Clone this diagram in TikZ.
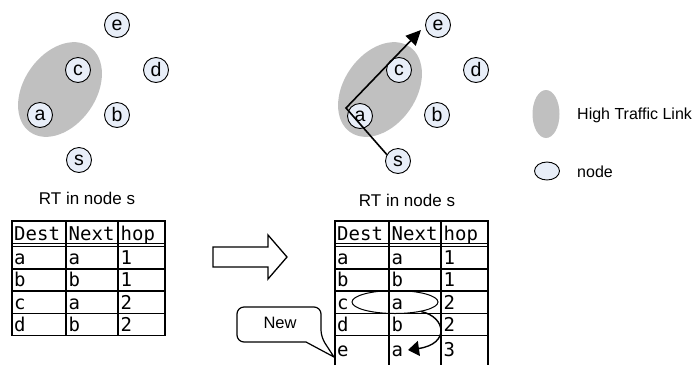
\documentclass[tikz,border=0pt]{standalone}
\usepackage{fontspec}
\setmainfont{Liberation Sans}
\newfontfamily\tabfont{DejaVu Sans Mono}
\usetikzlibrary{shapes.geometric,arrows.meta}
\definecolor{nodefill}{RGB}{232,238,248}
\definecolor{hot}{RGB}{192,192,192}
\begin{document}
\begin{tikzpicture}[x=1pt,y=-1pt,
  nd/.style={circle,draw,fill=nodefill,line width=0.9pt,minimum size=25pt,inner sep=0pt,font=\fontsize{19.5}{19.5}\selectfont},
  hotlink/.style={ellipse,fill=hot,inner sep=0pt},
  lbl/.style={font=\fontsize{17}{17}\selectfont,inner sep=0pt},
  cell/.style={anchor=base west,inner sep=0pt,font=\tabfont\fontsize{19}{19}\selectfont},
  grid/.style={line width=1.5pt},
  hdr/.style={line width=1pt}]
\useasboundingbox (0,0) rectangle (695,365);

% ---------- left graph ----------
\node[hotlink,minimum width=104pt,minimum height=72pt,rotate=55] (hl1) at (60,89.5) {};
\node[nd] (e1) at (117,25) {e};
\node[nd] (c1) at (78,70) {c};
\node[nd] (d1) at (156,70) {d};
\node[nd] (a1) at (40,115) {a};
\node[nd] (b1) at (117,115) {b};
\node[nd] (s1) at (79,160) {s};

% ---------- right graph ----------
\node[hotlink,minimum width=104pt,minimum height=72pt,rotate=55] (hl2) at (380,89.5) {};
\node[nd] (e2) at (438,25) {e};
\node[nd] (c2) at (399,70) {c};
\node[nd] (d2) at (476,70) {d};
\node[nd] (a2) at (360,116) {a};
\node[nd] (b2) at (437,115) {b};
\node[nd] (s2) at (398,161) {s};
\coordinate (bend) at (346,108);
\coordinate (tip) at (421,30);
\draw[line width=1.6pt,-{Triangle[length=15pt,width=14pt]}] (s2.150) -- (bend) -- (tip);

% ---------- legend ----------
\node[hotlink,minimum width=27pt,minimum height=48pt] (lg1) at (546,114) {};
\node[lbl,anchor=west,font=\fontsize{16}{16}\selectfont] (lt1) at (577,115) {High Traffic Link};
\node[ellipse,draw,fill=nodefill,line width=0.9pt,minimum width=25pt,minimum height=18pt,inner sep=0pt] (lg2) at (547,171) {};
\node[lbl,anchor=west,font=\fontsize{16}{16}\selectfont] (lt2) at (577,172) {node};

% ---------- titles ----------
\node[lbl] (rt1) at (87,198) {RT in node s};
\node[lbl] (rt2) at (407,200) {RT in node s};

% ---------- left table ----------
\draw[grid] (12,221) rectangle (165,335.6);
\draw[grid] (66,221) -- (66,335.6) (118,221) -- (118,335.6);
\draw[hdr] (12,243.8) -- (165,243.8) (12,246.8) -- (165,246.8);
\foreach \y in {268.8,291,313.3} \draw[grid] (12,\y) -- (165,\y);
\foreach \d/\n/\h/\y/\k in {Dest/Next/hop/240.5/0, a/a/1/264.6/1, b/b/1/286.9/2, c/a/2/309.1/3, d/b/2/331.4/4} {
  \node[cell] (L\k d) at (14,\y) {\d};
  \node[cell] (L\k n) at (68.5,\y) {\n};
  \node[cell] (L\k h) at (120.5,\y) {\h};
}

% ---------- right table ----------
\draw[grid] (335,365) -- (335,221) -- (488,221) -- (488,365);
\draw[grid] (389,221) -- (389,365) (441,221) -- (441,365);
\draw[hdr] (335,243.8) -- (488,243.8) (335,246.8) -- (488,246.8);
\foreach \y in {268.8,291,313.3,335.6} \draw[grid] (335,\y) -- (488,\y);
\foreach \d/\n/\h/\y/\k in {Dest/Next/hop/240.5/0, a/a/1/264.6/1, b/b/1/286.9/2, c/a/2/309.1/3, d/b/2/331.4/4, e/a/3/356/5} {
  \node[cell] (R\k d) at (337,\y) {\d};
  \node[cell] (R\k n) at (391.5,\y) {\n};
  \node[cell] (R\k h) at (443.5,\y) {\h};
}
\node[ellipse,draw,line width=1pt,minimum width=86pt,minimum height=23pt,inner sep=0pt] (hl) at (395,302) {};
\coordinate (tip2) at (408,350);
\draw[line width=1.4pt,-{Triangle[length=11pt,width=15pt]}] (hl.-20) .. controls (446,317) and (450,344) .. (tip2);

% ---------- block arrow ----------
\draw[line width=1.3pt,fill=white] (213,247) -- (268,247) -- (268,235) -- (287,257) -- (268,279) -- (268,267) -- (213,267) -- cycle;

% ---------- callout ----------
\draw[line width=1.2pt,fill=white,rounded corners=7pt] (237,307) -- (321,307) -- (321,337) [sharp corners] -- (334,357) -- (306,342) [rounded corners=7pt] -- (237,342) -- cycle;
\node[lbl,font=\fontsize{16.5}{16.5}\selectfont] (new) at (280,323) {New};
\end{tikzpicture}
\end{document}
